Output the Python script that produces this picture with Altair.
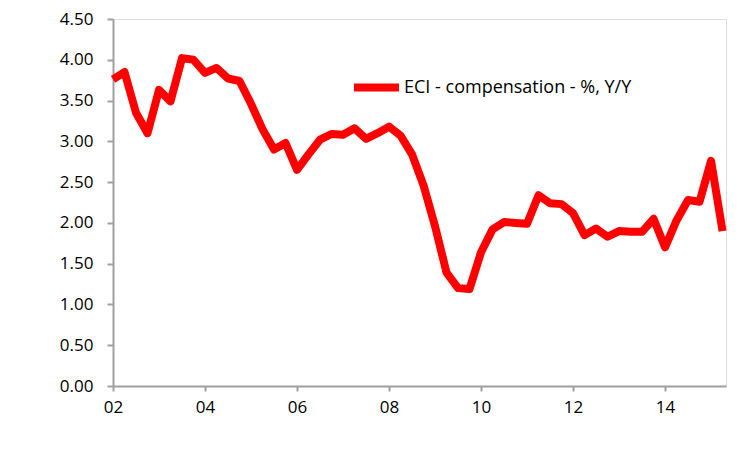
import altair as alt
import pandas as pd

series_name = "ECI - compensation - %, Y/Y"
# Quarterly, 2002Q1 .. 2015Q2
values = [3.76, 3.85, 3.35, 3.10, 3.63, 3.49, 4.02, 4.00, 3.84, 3.90,
          3.77, 3.74, 3.46, 3.15, 2.90, 2.98, 2.65, 2.84, 3.02, 3.09,
          3.08, 3.16, 3.03, 3.10, 3.18, 3.07, 2.84, 2.46, 1.96, 1.39,
          1.20, 1.19, 1.64, 1.92, 2.01, 2.00, 1.99, 2.34, 2.24, 2.23,
          2.12, 1.85, 1.93, 1.83, 1.90, 1.89, 1.89, 2.05, 1.70, 2.03,
          2.28, 2.26, 2.76, 1.90]
x_tick_positions = [0, 8, 16, 24, 32, 40, 48]
x_tick_labels = ["02", "04", "06", "08", "10", "12", "14"]
y_ticks = [0, 0.5, 1, 1.5, 2, 2.5, 3, 3.5, 4, 4.5]

df = pd.DataFrame({
    "q": list(range(len(values))),
    "v": values,
    "series": [series_name] * len(values),
})

label_map = "{" + ",".join(f"'{p}':'{l}'" for p, l in zip(x_tick_positions, x_tick_labels)) + "}"

FONT = "Open Sans"
AXIS_GREY = "#A0A0A0"

chart = alt.Chart(df).mark_line(
    strokeWidth=8, strokeJoin="round", strokeCap="butt"
).encode(
    x=alt.X("q:Q",
            scale=alt.Scale(domain=[0, 53.3], nice=False, zero=False),
            axis=alt.Axis(values=x_tick_positions,
                          labelExpr=f"{label_map}[''+datum.value]",
                          title=None, grid=False,
                          domainColor=AXIS_GREY, tickColor=AXIS_GREY,
                          domainWidth=2, tickWidth=2, tickSize=5,
                          labelPadding=8, labelFontSize=17, labelFont=FONT,
                          labelColor="#000000", labelFlush=False)),
    y=alt.Y("v:Q",
            scale=alt.Scale(domain=[0, 4.5], nice=False),
            axis=alt.Axis(values=y_ticks, format=".2f", title=None, grid=False,
                          domainColor=AXIS_GREY, tickColor=AXIS_GREY,
                          domainWidth=2, tickWidth=2, tickSize=6,
                          labelPadding=14, labelFontSize=17, labelFont=FONT,
                          labelColor="#000000")),
    color=alt.Color("series:N",
                    scale=alt.Scale(range=["#FF0000"]),
                    legend=alt.Legend(orient="none", legendX=237, legendY=42,
                                      title=None, symbolType="stroke",
                                      symbolSize=2025, symbolStrokeWidth=8,
                                      labelFontSize=18, labelFont=FONT,
                                      labelColor="#000000", labelOffset=1,
                                      padding=0, labelLimit=400)),
).properties(
    width=613, height=367,
    autosize=alt.AutoSizeParams(type="none"),
    padding={"left": 105, "top": 11, "right": 16, "bottom": 50},
).configure_view(stroke=None).configure(background="white")

chart.save("out.html", embed_options={"renderer": "svg", "actions": False})
